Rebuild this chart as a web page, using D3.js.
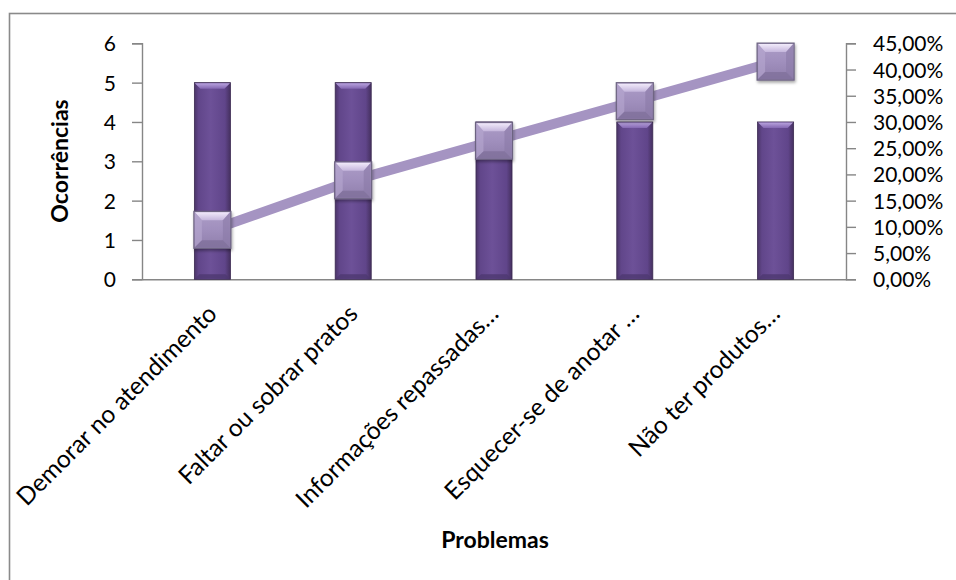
<!DOCTYPE html>
<html>
<head>
<meta charset="utf-8">
<script src="https://cdn.jsdelivr.net/npm/d3@7"></script>
<style>
  html, body { margin: 0; padding: 0; background: #fff; }
  svg { display: block; font-family: Lato, "Open Sans", sans-serif; }
</style>
</head>
<body>
<svg id="chart" width="956" height="580"></svg>
<script>
// ---- data ----
const categories = [
  "Demorar no atendimento",
  "Faltar ou sobrar pratos",
  "Informações repassadas…",
  "Esquecer-se de anotar …",
  "Não ter produtos…"
];
const occurrences = [5, 5, 4, 4, 4];
const cumulativePct = [9.43, 18.87, 26.42, 33.96, 41.51];
const leftTicks = [0, 1, 2, 3, 4, 5, 6];
const rightTicks = [0, 5, 10, 15, 20, 25, 30, 35, 40, 45];
const rightTickLabels = ["0,00%", "5,00%", "10,00%", "15,00%", "20,00%", "25,00%", "30,00%", "35,00%", "40,00%", "45,00%"];
const yTitle = "Ocorrências";
const xTitle = "Problemas";

// ---- layout ----
const W = 956, H = 580;
const plot = { left: 142, right: 846, top: 43.3, bottom: 279.3 };
const svg = d3.select("#chart");
const defs = svg.append("defs");
const FONT = "Lato, 'Open Sans', sans-serif";

const x = d3.scaleBand().domain(categories).range([plot.left, plot.right]).padding(0);
const yL = d3.scaleLinear().domain([0, 6]).range([plot.bottom, plot.top]);
const yR = d3.scaleLinear().domain([0, 45]).range([plot.bottom, plot.top]);
const barW = x.bandwidth() * 0.256;
const cx = c => x(c) + x.bandwidth() / 2;

// gradients
const gBar = defs.append("linearGradient").attr("id", "gBar").attr("x1", 0).attr("x2", 1).attr("y1", 0).attr("y2", 0);
[[0, "#4b3568"], [0.12, "#61468a"], [0.45, "#6d5198"], [0.85, "#60458a"], [1, "#45305f"]]
  .forEach(([o, c]) => gBar.append("stop").attr("offset", o).attr("stop-color", c));
const gBev = defs.append("linearGradient").attr("id", "gBev").attr("x1", 0).attr("x2", 0).attr("y1", 0).attr("y2", 1);
[[0, "#b9a3de"], [1, "#8468b2"]].forEach(([o, c]) => gBev.append("stop").attr("offset", o).attr("stop-color", c));
const gMk = defs.append("linearGradient").attr("id", "gMk").attr("x1", 0).attr("x2", 0).attr("y1", 0).attr("y2", 1);
[[0, "#ad9dc7"], [0.5, "#a08fbd"], [1, "#8f7eab"]].forEach(([o, c]) => gMk.append("stop").attr("offset", o).attr("stop-color", c));
const gMkTop = defs.append("linearGradient").attr("id", "gMkTop").attr("x1", 0).attr("x2", 0).attr("y1", 0).attr("y2", 1);
[[0, "#f1eafa"], [1, "#c4b5dc"]].forEach(([o, c]) => gMkTop.append("stop").attr("offset", o).attr("stop-color", c));
const shadow = defs.append("filter").attr("id", "shadow").attr("x", "-30%").attr("y", "-30%").attr("width", "160%").attr("height", "160%");
shadow.append("feDropShadow").attr("dx", 1).attr("dy", 2).attr("stdDeviation", 1.5).attr("flood-color", "#000").attr("flood-opacity", 0.35);

// outer border
svg.append("rect").attr("x", 9.5).attr("y", 13.5).attr("width", W + 20).attr("height", H + 20)
  .attr("fill", "none").attr("stroke", "#8a8a8a").attr("stroke-width", 1.6);

// axes
const axisColor = "#868686";
const gL = svg.append("g").attr("transform", `translate(${plot.left},0)`)
  .call(d3.axisLeft(yL).tickValues(leftTicks).tickSize(10).tickPadding(16).tickFormat(d3.format("d")));
const gR = svg.append("g").attr("transform", `translate(${plot.right},0)`)
  .call(d3.axisRight(yR).tickValues(rightTicks).tickSize(10).tickPadding(17).tickFormat((d, i) => rightTickLabels[i]));
[gL, gR].forEach(g => {
  g.select(".domain").attr("stroke", axisColor).attr("stroke-width", 1.4);
  g.selectAll(".tick line").attr("stroke", axisColor).attr("stroke-width", 1.4);
  g.selectAll(".tick text").attr("fill", "#000").attr("font-size", 21)
    .attr("font-family", FONT).attr("dy", "0.36em");
});
// baseline
const gX = svg.append("g").attr("transform", `translate(0,${plot.bottom})`)
  .call(d3.axisBottom(x).tickSize(0).tickFormat(""));
gX.select(".domain").attr("stroke", axisColor).attr("stroke-width", 1.4);

// category labels
svg.append("g").selectAll("text").data(categories).join("text")
  .attr("transform", d => `translate(${cx(d) + 6},${plot.bottom + 36}) rotate(-45)`)
  .attr("text-anchor", "end")
  .attr("font-size", 24.5)
  .attr("font-family", FONT)
  .attr("fill", "#000")
  .text(d => d);

// bars
const bars = svg.append("g").selectAll("g").data(categories).join("g");
bars.append("rect")
  .attr("x", d => cx(d) - barW / 2)
  .attr("y", (d, i) => yL(occurrences[i]))
  .attr("width", barW)
  .attr("height", (d, i) => yL(0) - yL(occurrences[i]))
  .attr("fill", "url(#gBar)")
  .attr("stroke", "#3a2950").attr("stroke-width", 0.8);
bars.append("polygon")
  .attr("points", (d, i) => {
    const l = cx(d) - barW / 2, r = cx(d) + barW / 2, t = yL(occurrences[i]), b = 6;
    return `${l + 0.5},${t + 0.5} ${r - 0.5},${t + 0.5} ${r - b},${t + b} ${l + b},${t + b}`;
  })
  .attr("fill", "url(#gBev)");
bars.append("polygon")
  .attr("points", d => {
    const l = cx(d) - barW / 2, r = cx(d) + barW / 2, t = yL(0), b = 5;
    return `${l + 0.5},${t - 0.5} ${r - 0.5},${t - 0.5} ${r - b},${t - b} ${l + b},${t - b}`;
  })
  .attr("fill", "#4e3870").attr("opacity", 0.8);

// cumulative line
const line = d3.line().x((d, i) => cx(categories[i])).y(d => yR(d));
svg.append("path").datum(cumulativePct).attr("d", line)
  .attr("fill", "none").attr("stroke", "#a594c2").attr("stroke-width", 10);

// markers
const mk = 37;
const marks = svg.append("g").selectAll("g").data(cumulativePct).join("g")
  .attr("transform", (d, i) => `translate(${cx(categories[i])},${yR(d)})`);
marks.append("rect")
  .attr("x", -mk / 2).attr("y", -mk / 2).attr("width", mk).attr("height", mk)
  .attr("fill", "url(#gMk)").attr("stroke", "#6c6380").attr("stroke-width", 1.2)
  .attr("filter", "url(#shadow)");
marks.append("polygon")
  .attr("points", `${-mk / 2 + 1},${-mk / 2 + 1} ${mk / 2 - 1},${-mk / 2 + 1} ${mk / 2 - 8},${-mk / 2 + 9} ${-mk / 2 + 8},${-mk / 2 + 9}`)
  .attr("fill", "url(#gMkTop)");
marks.append("polygon")
  .attr("points", `${-mk / 2 + 1},${-mk / 2 + 1} ${-mk / 2 + 8},${-mk / 2 + 9} ${-mk / 2 + 8},${mk / 2 - 8} ${-mk / 2 + 1},${mk / 2 - 1}`)
  .attr("fill", "#b8a9d1").attr("opacity", 0.6);
marks.append("polygon")
  .attr("points", `${mk / 2 - 1},${-mk / 2 + 1} ${mk / 2 - 8},${-mk / 2 + 9} ${mk / 2 - 8},${mk / 2 - 8} ${mk / 2 - 1},${mk / 2 - 1}`)
  .attr("fill", "#8a7aa6").attr("opacity", 0.6);
marks.append("polygon")
  .attr("points", `${-mk / 2 + 1},${mk / 2 - 1} ${-mk / 2 + 8},${mk / 2 - 8} ${mk / 2 - 8},${mk / 2 - 8} ${mk / 2 - 1},${mk / 2 - 1}`)
  .attr("fill", "#7d6e98").attr("opacity", 0.7);

// axis titles
svg.append("text")
  .attr("transform", `translate(68,161) rotate(-90)`)
  .attr("text-anchor", "middle")
  .attr("font-size", 23).attr("font-weight", "bold").attr("fill", "#000").attr("font-family", FONT)
  .text(yTitle);
svg.append("text")
  .attr("x", 495).attr("y", 548)
  .attr("text-anchor", "middle")
  .attr("font-size", 23).attr("font-weight", "bold").attr("fill", "#000").attr("font-family", FONT)
  .text(xTitle);
</script>
</body>
</html>
